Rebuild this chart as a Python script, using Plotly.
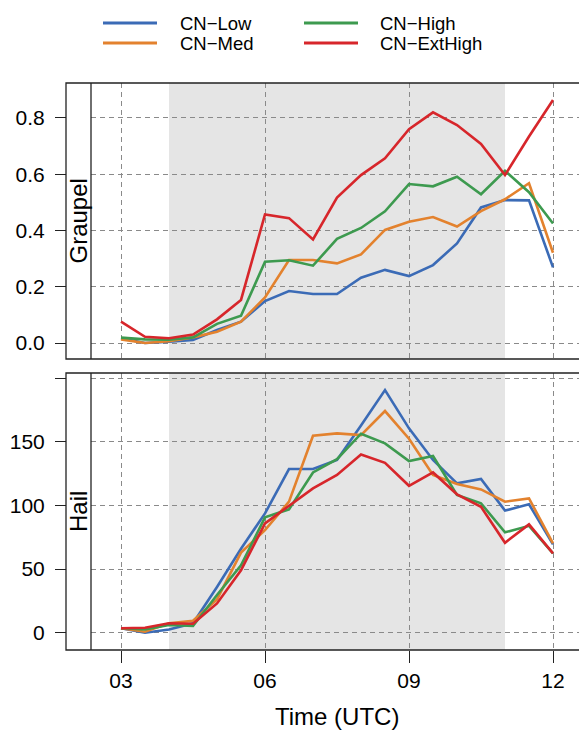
import plotly.graph_objects as go

# ---- data -------------------------------------------------------------
hours = [3.0, 3.5, 4.0, 4.5, 5.0, 5.5, 6.0, 6.5, 7.0, 7.5, 8.0, 8.5, 9.0,
         9.5, 10.0, 10.5, 11.0, 11.5, 12.0]
series_names = ["CN\u2212Low", "CN\u2212Med", "CN\u2212High", "CN\u2212ExtHigh"]
series_colors = ["#3b6bb6", "#e3822e", "#3d9a4f", "#d7262b"]

graupel_low = [0.017, 0.000, 0.005, 0.011, 0.046, 0.076, 0.149, 0.185, 0.174, 0.174,
               0.232, 0.260, 0.238, 0.277, 0.354, 0.482, 0.508, 0.507, 0.269]
graupel_med = [0.013, 0.000, 0.006, 0.020, 0.040, 0.076, 0.162, 0.295, 0.295, 0.283,
               0.315, 0.402, 0.431, 0.448, 0.414, 0.469, 0.511, 0.568, 0.321]
graupel_high = [0.019, 0.013, 0.012, 0.020, 0.068, 0.097, 0.289, 0.294, 0.275, 0.370,
                0.409, 0.468, 0.565, 0.557, 0.591, 0.529, 0.612, 0.536, 0.425]
graupel_ext = [0.076, 0.022, 0.017, 0.030, 0.084, 0.153, 0.457, 0.444, 0.368, 0.517,
               0.597, 0.657, 0.760, 0.820, 0.775, 0.708, 0.597, 0.734, 0.864]

hail_low = [3.5, 0.0, 2.5, 7.4, 36.0, 66.0, 93.8, 128.7, 128.7, 135.8,
            163.0, 190.8, 160.7, 135.8, 117.4, 120.9, 96.0, 101.0, 69.5]
hail_med = [3.5, 0.8, 7.4, 9.4, 26.2, 63.0, 80.7, 103.0, 154.9, 156.7,
            155.4, 174.3, 152.5, 124.0, 117.0, 112.7, 103.0, 105.6, 70.3]
hail_high = [3.5, 2.5, 6.0, 5.3, 29.6, 53.0, 90.7, 97.0, 126.0, 136.5,
             156.5, 148.9, 135.0, 138.9, 108.3, 101.7, 78.9, 84.0, 62.4]
hail_ext = [3.5, 3.9, 7.4, 7.0, 23.0, 49.0, 86.0, 99.6, 113.5, 124.0,
            140.2, 133.6, 115.5, 126.0, 108.8, 99.0, 70.7, 85.2, 62.4]

graupel = [graupel_low, graupel_med, graupel_high, graupel_ext]
hail = [hail_low, hail_med, hail_high, hail_ext]

shade_start, shade_end = 4, 11
x_tickvals = [3, 6, 9, 12]
x_ticktext = ["03", "06", "09", "12"]
graupel_ticks = [0.0, 0.2, 0.4, 0.6, 0.8]
hail_ticks = [0, 50, 100, 150, 200]
hail_ticktext = ["0", "50", "100", "150", ""]

# ---- layout helpers ---------------------------------------------------
W, H = 579, 730
FONT = "Liberation Sans, Arial, Helvetica, sans-serif"
INK = "#222222"
GRID = "#8a8a8a"


def px(x):
    return x / W


def py(y):
    return 1 - y / H


strip_left, strip_right = 66, 91
panels = [(83, 359), (373, 650)]

fig = go.Figure()

for vals, name, col in zip(graupel, series_names, series_colors):
    fig.add_trace(go.Scatter(x=hours, y=vals, mode="lines", name=name,
                             line=dict(color=col, width=2.6),
                             xaxis="x", yaxis="y", showlegend=False))
for vals, name, col in zip(hail, series_names, series_colors):
    fig.add_trace(go.Scatter(x=hours, y=vals, mode="lines", name=name,
                             line=dict(color=col, width=2.6),
                             xaxis="x2", yaxis="y2", showlegend=False))

x_range = [2.375, 12.5417]
common_x = dict(range=x_range, domain=[px(strip_right), 1], tickvals=x_tickvals,
                showgrid=True, gridcolor=GRID, griddash="5px,4px", gridwidth=1.2,
                zeroline=False, showline=False, fixedrange=True)
common_y = dict(anchor="free", position=px(strip_left), showgrid=True,
                gridcolor=GRID, griddash="5px,4px", gridwidth=1.2,
                zeroline=False, showline=False, ticks="outside", ticklen=11,
                tickwidth=1.2, tickcolor=INK, ticklabelstandoff=6,
                tickfont=dict(size=21, color="black", family=FONT))

fig.update_layout(
    width=W, height=H, margin=dict(l=0, r=0, t=0, b=0),
    paper_bgcolor="white", plot_bgcolor="white",
    font=dict(family=FONT, color="black"),
    xaxis=dict(common_x, anchor="y", showticklabels=False, ticks=""),
    yaxis=dict(common_y, domain=[py(panels[0][1]), py(panels[0][0])],
               range=[-0.0569, 0.9244], tickvals=graupel_ticks, tickformat=".1f"),
    xaxis2=dict(common_x, anchor="y2", ticks="outside", ticklen=12, tickwidth=1.2,
                tickcolor=INK, ticktext=x_ticktext, ticklabelstandoff=0,
                tickfont=dict(size=21, color="black", family=FONT)),
    yaxis2=dict(common_y, domain=[py(panels[1][1]), py(panels[1][0])],
                range=[-13.6, 204.2], tickvals=hail_ticks, ticktext=hail_ticktext),
)

shapes = []
# shaded period in each panel
for xr, yr in (("x", "y domain"), ("x2", "y2 domain")):
    shapes.append(dict(type="rect", xref=xr, yref=yr, x0=shade_start, x1=shade_end,
                       y0=0, y1=1, fillcolor="#e5e5e5", line=dict(width=0),
                       layer="below"))
# panel frames and strip boxes
for top, bot in panels:
    shapes.append(dict(type="rect", xref="paper", yref="paper",
                       x0=px(strip_left), x1=px(W + 10), y0=py(bot), y1=py(top),
                       line=dict(color=INK, width=1.3), fillcolor="rgba(0,0,0,0)",
                       layer="above"))
    shapes.append(dict(type="line", xref="paper", yref="paper",
                       x0=px(strip_right), x1=px(strip_right), y0=py(bot), y1=py(top),
                       line=dict(color=INK, width=1.3), layer="above"))

# legend keys
legend_cols = [(103, 157, 178), (304, 358, 378)]
legend_rows = [23, 43]
legend_order = [0, 1, 2, 3]  # column-major: Low, Med | High, ExtHigh
annotations = []
for k, idx in enumerate(legend_order):
    c, r = divmod(k, 2)
    x0, x1, xt = legend_cols[c]
    yy = legend_rows[r]
    shapes.append(dict(type="line", xref="paper", yref="paper",
                       x0=px(x0), x1=px(x1), y0=py(yy), y1=py(yy),
                       line=dict(color=series_colors[idx], width=2.8)))
    annotations.append(dict(x=px(xt), y=py(yy + 0.5), xref="paper", yref="paper",
                            text=series_names[idx], showarrow=False,
                            xanchor="left", yanchor="middle",
                            font=dict(size=18.5, color="black", family=FONT)))

# strip labels
for label, (top, bot) in zip(["Graupel", "Hail"], panels):
    annotations.append(dict(x=px((strip_left + strip_right) / 2), y=py((top + bot) / 2),
                            xref="paper", yref="paper", text=label, textangle=-90,
                            showarrow=False, xanchor="center", yanchor="middle",
                            font=dict(size=24, color="black", family=FONT)))

# x-axis title
annotations.append(dict(x=px(336.5), y=py(716), xref="paper", yref="paper",
                        text="Time (UTC)", showarrow=False, xanchor="center",
                        yanchor="middle", font=dict(size=24, color="black", family=FONT)))

fig.update_layout(shapes=shapes, annotations=annotations)

fig.write_html("out.html")
